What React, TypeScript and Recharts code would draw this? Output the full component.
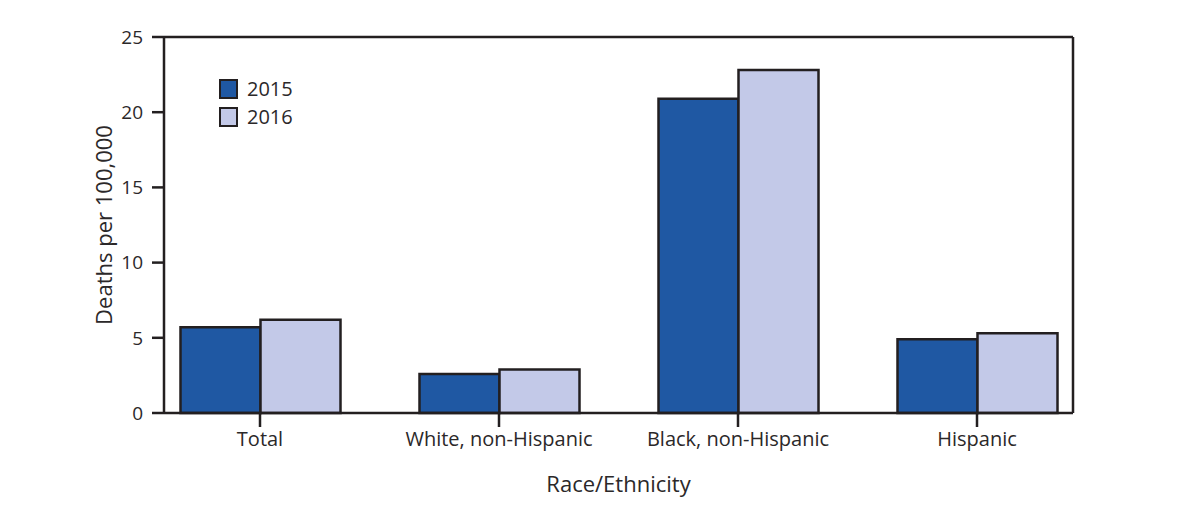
import React from 'react';
import { BarChart, Bar, XAxis, YAxis, Legend } from 'recharts';

const categories = ['Total', 'White, non-Hispanic', 'Black, non-Hispanic', 'Hispanic'];
const values2015 = [5.7, 2.6, 20.9, 4.9];
const values2016 = [6.2, 2.9, 22.8, 5.3];
const yTicks = [0, 5, 10, 15, 20, 25];
const seriesNames = ['2015', '2016'];
const seriesColors = ['#1f58a3', '#c3c9e8'];

const data = categories.map((c, i) => ({ name: c, v2015: values2015[i], v2016: values2016[i] }));

const FONT = '"Open Sans", "Noto Sans", sans-serif';
const TEXT = '#2b2829';
const STROKE = '#231f20';

const LegendContent = () => (
  <div style={{ fontFamily: FONT, fontSize: 20, color: TEXT, lineHeight: '20px' }}>
    {seriesNames.map((n, i) => (
      <div key={n} style={{ display: 'flex', alignItems: 'center', height: 28 }}>
        <div style={{ width: 15, height: 16, background: seriesColors[i], border: `2.5px solid ${STROKE}`, marginRight: 9 }} />
        <span>{n}</span>
      </div>
    ))}
  </div>
);

const YLabel = (props: any) => {
  const vb = props.viewBox || {};
  const cx = vb.x + vb.width / 2 + 17;
  const cy = vb.y + vb.height / 2;
  return (
    <text x={cx} y={cy} transform={`rotate(-90, ${cx}, ${cy})`} textAnchor="middle" dominantBaseline="central"
      fontFamily={FONT} fontSize={22} fill={TEXT}>Deaths per 100,000</text>
  );
};

export default function App() {
  return (
    <BarChart width={1188} height={496} data={data} margin={{ top: 28, right: 122, left: 0, bottom: 0 }}
      barGap={0} barSize={80}>
      <XAxis dataKey="name" type="category" height={91} padding={{ left: -23.5, right: -23.5 }}
        tickSize={14} tickMargin={5} tickLine={{ stroke: STROKE, strokeWidth: 2.5 }}
        axisLine={{ stroke: STROKE, strokeWidth: 2.5 }}
        tick={{ fontFamily: FONT, fontSize: 20, fill: TEXT }}
        label={{ value: 'Race/Ethnicity', position: 'insideBottom', offset: 12, fontFamily: FONT, fontSize: 22, fill: TEXT }} />
      <XAxis xAxisId="top" dataKey="name" orientation="top" height={1} tick={false} tickLine={false}
        axisLine={{ stroke: STROKE, strokeWidth: 2.5 }} />
      <YAxis type="number" domain={[0, 25]} ticks={yTicks} width={156} tickSize={12} tickMargin={9}
        tickLine={{ stroke: STROKE, strokeWidth: 2.5 }} axisLine={{ stroke: STROKE, strokeWidth: 2.5 }}
        tick={{ fontFamily: FONT, fontSize: 19, fill: TEXT }} label={<YLabel />} />
      <YAxis yAxisId="right" orientation="right" domain={[0, 25]} width={1} tick={false} tickLine={false}
        axisLine={{ stroke: STROKE, strokeWidth: 2.5 }} />
      <Legend content={<LegendContent />} layout="vertical" verticalAlign="middle" align="center"
        wrapperStyle={{ position: 'absolute', left: 211, top: 67, width: 'auto', height: 'auto' }} />
      <Bar dataKey="v2015" name="2015" fill={seriesColors[0]} stroke={STROKE} strokeWidth={2.5} isAnimationActive={false} />
      <Bar dataKey="v2016" name="2016" fill={seriesColors[1]} stroke={STROKE} strokeWidth={2.5} isAnimationActive={false} />
    </BarChart>
  );
}
